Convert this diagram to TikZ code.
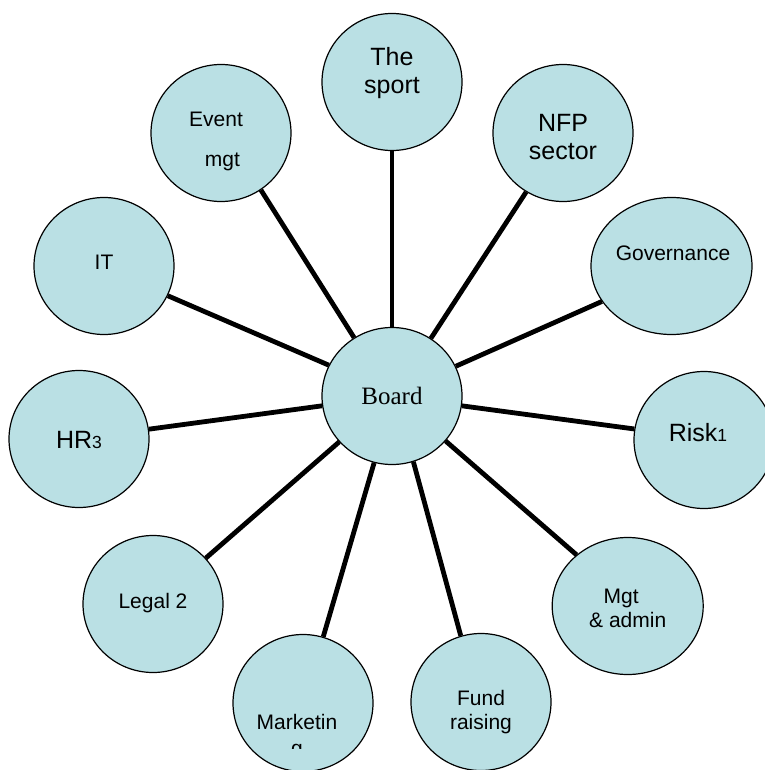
\documentclass[tikz,border=0pt]{standalone}
\usepackage{fontspec}
\setmainfont{Liberation Sans}
\newfontfamily\boardfont{Liberation Serif}
\usetikzlibrary{shapes.geometric}
\definecolor{bubblefill}{RGB}{186,224,228}
\begin{document}
\begin{tikzpicture}[x=1pt, y=-1pt,
  bubble/.style={draw, ellipse, fill=bubblefill, line width=1.2pt, minimum width=140pt, minimum height=137pt, inner sep=0pt},
  spoke/.style={line width=4.8pt},
  lbl/.style={align=center, inner sep=0pt, font=\fontsize{21}{23.5}\selectfont},
  lblbig/.style={align=center, inner sep=0pt, font=\fontsize{25}{28}\selectfont}]
\useasboundingbox (0,0) rectangle (764,770);
% circles
\node[bubble] (board) at (392,396) {};
\node[bubble] (sport) at (392,82) {};
\node[bubble] (nfp) at (563,133) {};
\node[bubble, minimum width=161pt] (gov) at (671.5,266) {};
\node[bubble] (risk) at (704,440) {};
\node[bubble, minimum width=151pt] (mgt) at (627.7,606) {};
\node[bubble] (fund) at (481,702) {};
\node[bubble] (mkt) at (303,703) {};
\node[bubble] (legal) at (153,604) {};
\node[bubble] (hr) at (79,439) {};
\node[bubble] (it) at (104,266) {};
\node[bubble] (event) at (221,133) {};
% spokes
\draw[spoke] (board.90) -- (sport.-90);
\draw[spoke] (board.56.7) -- (nfp.-122);
\draw[spoke] (board.25.7) -- (gov.207.8);
\draw[spoke] (board.-8.2) -- (risk.171.8);
\draw[spoke] (board.-40.3) -- (mgt.135.7);
\draw[spoke] (board.-72.8) -- (fund.107);
\draw[spoke] (board.-105.8) -- (mkt.73.7);
\draw[spoke] (board.221.6) -- (legal.41.2);
\draw[spoke] (board.188.2) -- (hr.8.1);
\draw[spoke] (board.154.8) -- (it.-25);
\draw[spoke] (board.123) -- (event.-55.6);
% labels
\node[inner sep=0pt, font=\boardfont\fontsize{25}{28}\selectfont] (board-t) at (392,395.5) {Board};
\node[lblbig] (sport-t) at (392,73) {The\\sport};
\node[lblbig] (nfp-t) at (563,136.6) {NFP\\sector};
\node[lbl] (gov-t) at (673,253) {Governance};
\node[lblbig] (risk-t) at (698,432.3) {Risk{\fontsize{17.5}{20}\selectfont 1}};
\node[lbl] (mgt-t) at (627.7,608.2) {Mgt\hspace*{13pt}\\\& admin};
\node[lbl, font=\fontsize{21}{24.5}\selectfont] (fund-t) at (481,712) {Fund\\raising};
\begin{scope}
\clip (200,600) rectangle (400,748);
\node[lbl, font=\fontsize{21}{26.5}\selectfont] (mkt-t) at (297,737) {Marketin\\g};
\end{scope}
\node[lbl] (legal-t) at (153,603.4) {Legal 2};
\node[lblbig] (hr-t) at (79,439.6) {HR{\fontsize{17.5}{20}\selectfont 3}};
\node[lbl] (it-t) at (104,262) {IT};
\node[lbl, font=\fontsize{21}{40}\selectfont] (event-t) at (216,141.4) {Event\\\hspace*{13pt}mgt};
\end{tikzpicture}
\end{document}
